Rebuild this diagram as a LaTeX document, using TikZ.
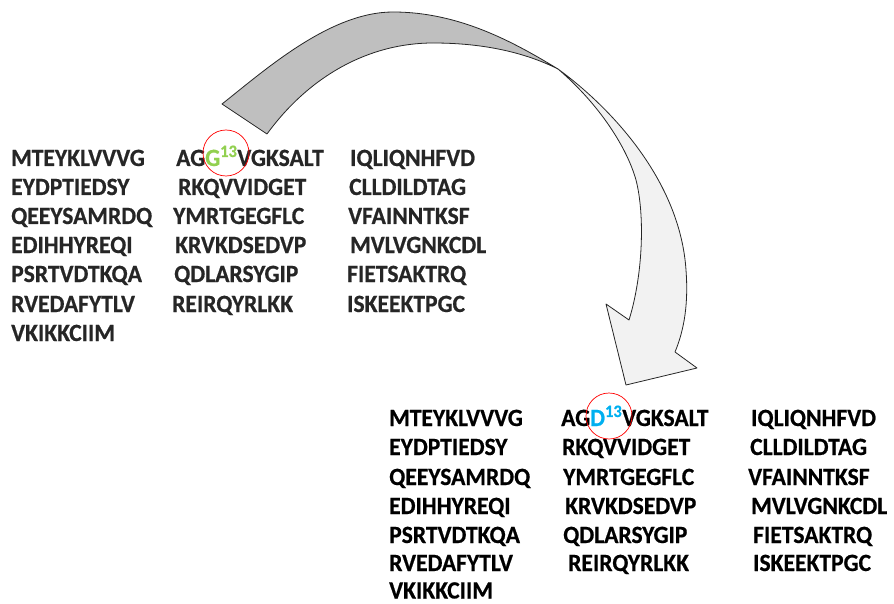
\documentclass[tikz,border=0pt]{standalone}
\usepackage{fontspec}
\setmainfont{Carlito}[FakeStretch=0.95, BoldFeatures={FakeBold=0.6}]
\definecolor{seqgray}{HTML}{262626}
\definecolor{mutgreen}{HTML}{92D050}
\definecolor{mutblue}{HTML}{00B0F0}
\definecolor{arrowback}{HTML}{BFBFBF}
\definecolor{arrowfront}{HTML}{F2F2F2}
\tikzset{
  seq/.style={anchor=base west, inner sep=0pt, font=\fontsize{24.8}{28}\selectfont\bfseries},
  mutring/.style={draw=red, circle, minimum size=46pt, inner sep=0pt, line width=0.7pt},
  arrowpart/.style={draw=black!85, line width=0.8pt, line join=round},
}
\begin{document}
\begin{tikzpicture}[x=1pt,y=-1pt]
\useasboundingbox (0,0) rectangle (894,604);
% curved arrow: back face up to the twist, front face with the head
\draw[arrowpart, fill=arrowback] (222,104) .. controls (265,70) and (330,12) .. (393,12)
  .. controls (460,12) and (515,43) .. (558,69)
  .. controls (530,55) and (490,43) .. (433,43)
  .. controls (370,43) and (310,75) .. (267,134) -- cycle;
\draw[arrowpart, fill=arrowfront] (558,69) .. controls (610,107) and (680,180) .. (686,270)
  .. controls (689,310) and (682,335) .. (675,352) -- (697,368) -- (626,385) -- (606,304) -- (629,320)
  .. controls (643,275) and (645,215) .. (636,180)
  .. controls (627,148) and (600,105) .. (558,69) -- cycle;
% original sequence
\foreach \y/\a/\xb/\b/\xc/\c [count=\r] in {
  166/MTEYKLVVVG/176/{AG{\color{mutgreen}G\textsuperscript{13}}VGKSALT}/350/IQLIQNHFVD,
  195/EYDPTIEDSY/178/RKQVVIDGET/349/CLLDILDTAG,
  224/QEEYSAMRDQ/173/YMRTGEGFLC/348/VFAINNTKSF,
  253/EDIHHYREQI/175/KRVKDSEDVP/350/MVLVGNKCDL,
  282/PSRTVDTKQA/174/QDLARSYGIP/347/FIETSAKTRQ,
  312/RVEDAFYTLV/172/REIRQYRLKK/347/ISKEEKTPGC} {
  \node[seq, text=seqgray] (L-\r-1) at (11,\y) {\a};
  \node[seq, text=seqgray] (L-\r-2) at (\xb,\y) {\b};
  \node[seq, text=seqgray] (L-\r-3) at (\xc,\y) {\c};
}
\node[seq, text=seqgray] (L-7-1) at (11,341) {VKIKKCIIM};
\node[mutring] (ringG) at (226,153) {};
% mutated sequence
\foreach \y/\a/\xb/\b/\xc/\c [count=\r] in {
  426/MTEYKLVVVG/561/{AG{\color{mutblue}D\textsuperscript{13}}VGKSALT}/751/IQLIQNHFVD,
  455/EYDPTIEDSY/562/RKQVVIDGET/750/CLLDILDTAG,
  485/QEEYSAMRDQ/563/YMRTGEGFLC/748/VFAINNTKSF,
  514/EDIHHYREQI/565/KRVKDSEDVP/751/MVLVGNKCDL,
  543/PSRTVDTKQA/563/QDLARSYGIP/753/FIETSAKTRQ,
  571/RVEDAFYTLV/568/REIRQYRLKK/753/ISKEEKTPGC} {
  \node[seq] (R-\r-1) at (389,\y) {\a};
  \node[seq] (R-\r-2) at (\xb,\y) {\b};
  \node[seq] (R-\r-3) at (\xc,\y) {\c};
}
\node[seq] (R-7-1) at (389,598.5) {VKIKKCIIM};
\node[mutring] (ringD) at (609,416) {};
\end{tikzpicture}
\end{document}
